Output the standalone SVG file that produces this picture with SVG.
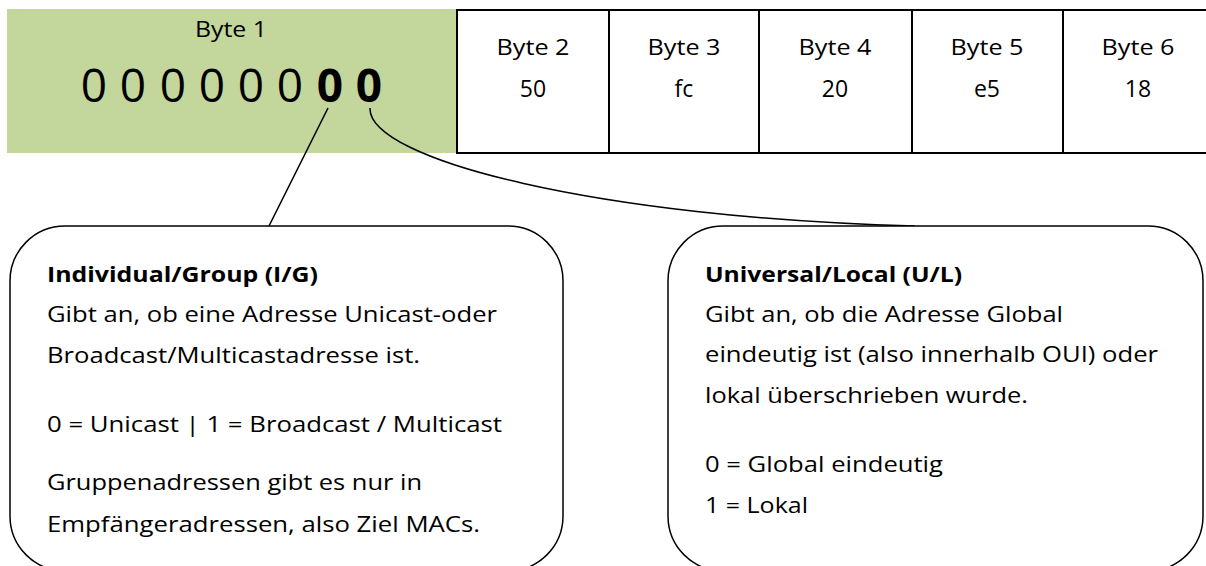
<svg xmlns="http://www.w3.org/2000/svg" width="1206" height="566" viewBox="0 0 1206 566">
<style>
  text { font-family: "Open Sans", "Liberation Sans", sans-serif; fill: #000; }
  .lbl { font-size: 22px; text-anchor: middle; }
  .val { font-size: 23px; text-anchor: middle; }
  .bit { font-size: 46px; text-anchor: middle; }
  .b { font-weight: bold; }
  .t { font-size: 22px; }
  .box { fill: #fff; stroke: #000; stroke-width: 1.5; }
  .cell { fill: none; stroke: #000; stroke-width: 2; }
  .conn { fill: none; stroke: #000; stroke-width: 1.5; }
</style>
<rect width="1206" height="566" fill="#fff"/>
<g id="byte1">
  <rect x="7" y="9" width="449" height="144" fill="#c3d69b"/>
  <text class="lbl" x="231" y="37" textLength="72" lengthAdjust="spacingAndGlyphs">Byte 1</text>
  <text class="bit" x="94" y="102">0</text>
  <text class="bit" x="133" y="102">0</text>
  <text class="bit" x="173" y="102">0</text>
  <text class="bit" x="212" y="102">0</text>
  <text class="bit" x="251" y="102">0</text>
  <text class="bit" x="290" y="102">0</text>
  <text class="bit b" x="330" y="102">0</text>
  <text class="bit b" x="369" y="102">0</text>
</g>
<g id="bytes">
  <rect class="cell" x="457" y="10" width="800" height="143"/>
  <line class="cell" x1="609" y1="10" x2="609" y2="153"/>
  <line class="cell" x1="759" y1="10" x2="759" y2="153"/>
  <line class="cell" x1="912" y1="10" x2="912" y2="153"/>
  <line class="cell" x1="1063" y1="10" x2="1063" y2="153"/>
</g>
<g id="byte2"><text class="lbl" x="533" y="55" textLength="73" lengthAdjust="spacingAndGlyphs">Byte 2</text><text class="val" x="533" y="97">50</text></g>
<g id="byte3"><text class="lbl" x="684" y="55" textLength="73" lengthAdjust="spacingAndGlyphs">Byte 3</text><text class="val" x="684" y="97">fc</text></g>
<g id="byte4"><text class="lbl" x="835" y="55" textLength="73" lengthAdjust="spacingAndGlyphs">Byte 4</text><text class="val" x="835" y="97">20</text></g>
<g id="byte5"><text class="lbl" x="987" y="55" textLength="73" lengthAdjust="spacingAndGlyphs">Byte 5</text><text class="val" x="987" y="97">e5</text></g>
<g id="byte6"><text class="lbl" x="1138" y="55" textLength="73" lengthAdjust="spacingAndGlyphs">Byte 6</text><text class="val" x="1138" y="97">18</text></g>
<g id="connectors">
  <line class="conn" x1="328" y1="108" x2="269" y2="226"/>
  <path class="conn" d="M370,108 C368,160 600,218 915,226"/>
</g>
<g id="ig-box">
  <rect class="box" x="10" y="226" width="553" height="345" rx="55" ry="55"/>
  <text class="t b" x="47" y="282" textLength="271" lengthAdjust="spacingAndGlyphs">Individual/Group (I/G)</text>
  <text class="t" x="47" y="322" textLength="450" lengthAdjust="spacingAndGlyphs">Gibt an, ob eine Adresse Unicast-oder</text>
  <text class="t" x="47" y="363" textLength="373" lengthAdjust="spacingAndGlyphs">Broadcast/Multicastadresse ist.</text>
  <text class="t" x="47" y="432" textLength="455" lengthAdjust="spacingAndGlyphs">0 = Unicast | 1 = Broadcast / Multicast</text>
  <text class="t" x="47" y="490" textLength="375" lengthAdjust="spacingAndGlyphs">Gruppenadressen gibt es nur in</text>
  <text class="t" x="47" y="532" textLength="433" lengthAdjust="spacingAndGlyphs">Empfängeradressen, also Ziel MACs.</text>
</g>
<g id="ul-box">
  <rect class="box" x="668" y="226" width="535" height="345" rx="55" ry="55"/>
  <text class="t b" x="705" y="282" textLength="257" lengthAdjust="spacingAndGlyphs">Universal/Local (U/L)</text>
  <text class="t" x="705" y="322" textLength="358" lengthAdjust="spacingAndGlyphs">Gibt an, ob die Adresse Global</text>
  <text class="t" x="705" y="362" textLength="453" lengthAdjust="spacingAndGlyphs">eindeutig ist (also innerhalb OUI) oder</text>
  <text class="t" x="705" y="403" textLength="323" lengthAdjust="spacingAndGlyphs">lokal überschrieben wurde.</text>
  <text class="t" x="705" y="472" textLength="238" lengthAdjust="spacingAndGlyphs">0 = Global eindeutig</text>
  <text class="t" x="705" y="513" textLength="103" lengthAdjust="spacingAndGlyphs">1 = Lokal</text>
</g>
</svg>
